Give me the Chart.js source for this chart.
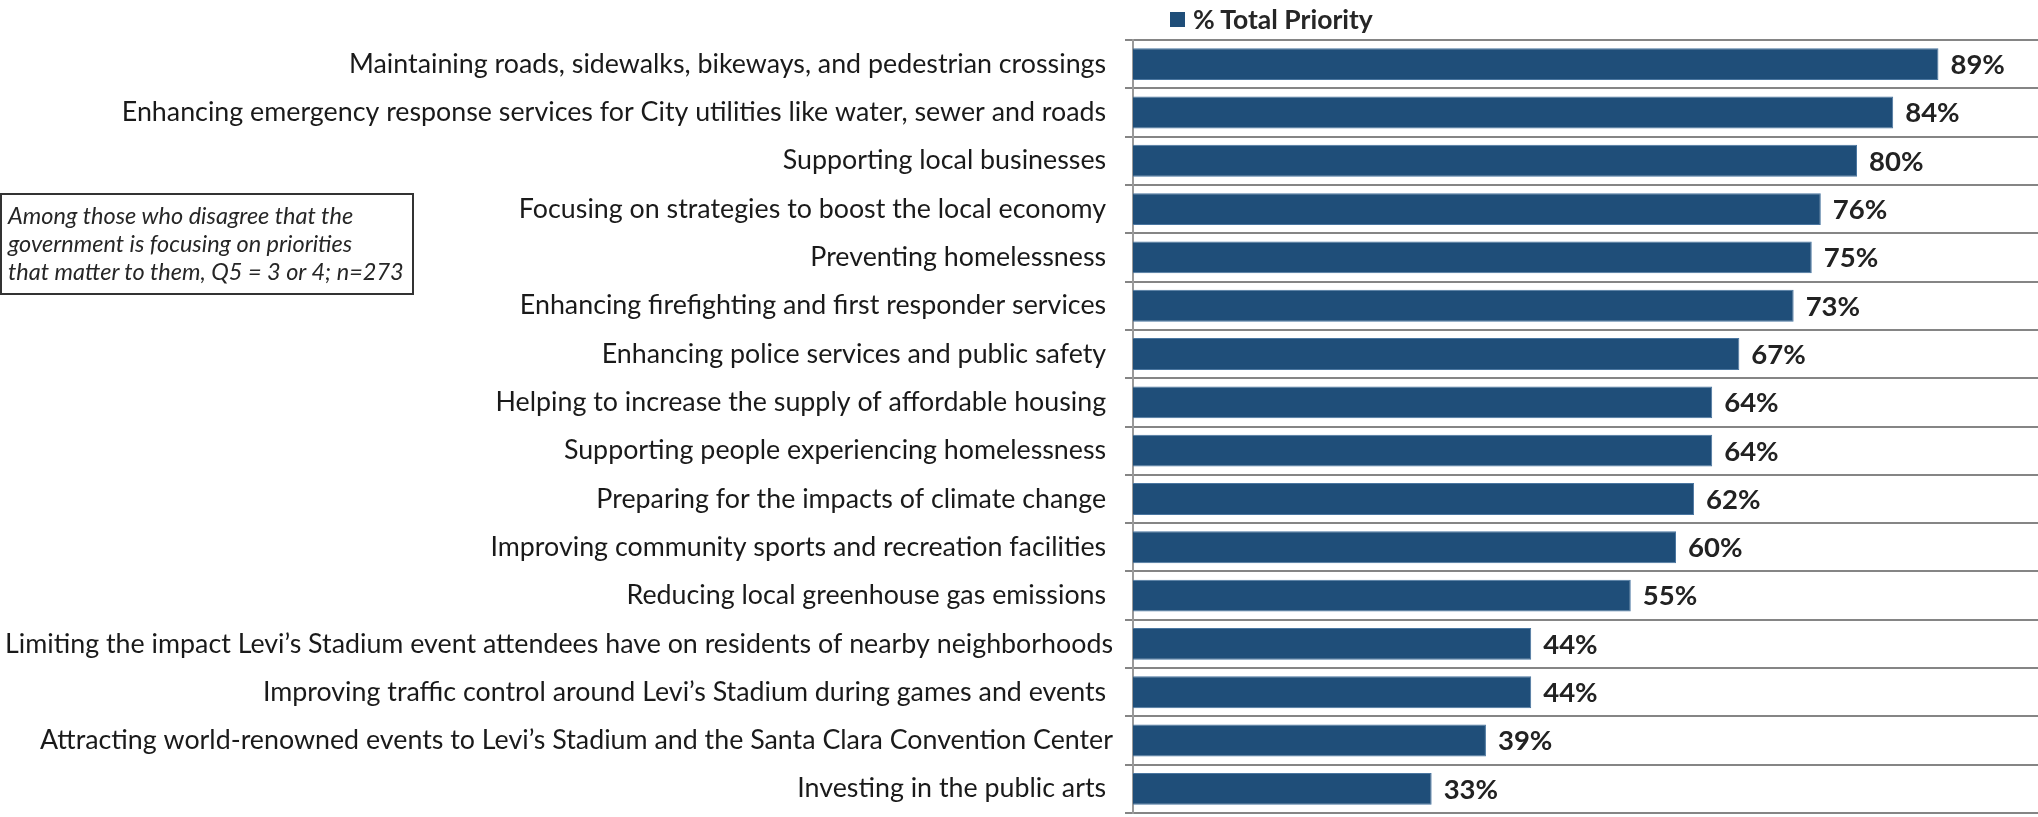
<!DOCTYPE html>
<html lang="en">
<head>
  <meta charset="UTF-8">
  <title>% Total Priority</title>
  <script src="https://cdn.jsdelivr.net/npm/chart.js"></script>
  <style>
    body { margin: 0; background: #fff; }
    .wrap { position: relative; width: 2038px; height: 817px; }
    .legend {
      position: absolute; left: 1170px; top: 3px;
      font: bold 26.5px Lato, sans-serif; color: #262626;
      display: flex; align-items: center;
    }
    .legend span {
      display: inline-block; width: 15px; height: 15px;
      background: #1f4e79; margin-right: 8px;
    }
    .note {
      position: absolute; left: 0; top: 193px; width: 414px; height: 102px;
      box-sizing: border-box;
      border: 2px solid #333; padding: 6px 0 0 6px;
      font: italic 23.5px Lato, sans-serif; line-height: 28px; color: #262626;
      white-space: nowrap;
    }
  </style>
</head>
<body>
<div class="wrap">
  <canvas id="chart"></canvas>
  <div class="legend"><span></span>% Total Priority</div>
  <div class="note">Among those who disagree that the<br>government is focusing on priorities<br>that matter to them, Q5 = 3 or 4; n=273</div>
</div>

<script>
// libellés des catégories (l'espace final vient de l'original)
const categories = [
  'Maintaining roads, sidewalks, bikeways, and pedestrian crossings ',
  'Enhancing emergency response services for City utilities like water, sewer and roads ',
  'Supporting local businesses ',
  'Focusing on strategies to boost the local economy ',
  'Preventing homelessness ',
  'Enhancing firefighting and first responder services ',
  'Enhancing police services and public safety ',
  'Helping to increase the supply of affordable housing ',
  'Supporting people experiencing homelessness ',
  'Preparing for the impacts of climate change ',
  'Improving community sports and recreation facilities ',
  'Reducing local greenhouse gas emissions ',
  'Limiting the impact Levi\u2019s Stadium event attendees have on residents of nearby neighborhoods',
  'Improving traffic control around Levi\u2019s Stadium during games and events ',
  'Attracting world-renowned events to Levi\u2019s Stadium and the Santa Clara Convention Center',
  'Investing in the public arts '
];
const totalPriority = [89, 84, 80, 76, 75, 73, 67, 64, 64, 62, 60, 55, 44, 44, 39, 33];
const seriesName = '% Total Priority';

// écrit les pourcentages au bout des barres
const valueLabels = {
  id: 'valueLabels',
  afterDatasetsDraw(chart) {
    const ctx = chart.ctx;
    ctx.save();
    ctx.font = 'bold 27.5px Lato, sans-serif';
    ctx.fillStyle = '#222';
    ctx.textBaseline = 'middle';
    chart.getDatasetMeta(0).data.forEach((bar, i) => {
      ctx.fillText(totalPriority[i] + '%', bar.x + 12, bar.y + 1);
    });
    ctx.restore();
  }
};

new Chart(document.getElementById('chart'), {
  type: 'bar',
  data: {
    labels: categories,
    datasets: [{
      label: seriesName,
      data: totalPriority,
      backgroundColor: '#1f4e79',
      borderColor: '#4a76a0',
      borderWidth: 1,
      categoryPercentage: 1,
      barPercentage: 0.66
    }]
  },
  options: {
    indexAxis: 'y',
    responsive: true,
    maintainAspectRatio: false,
    animation: false,
    layout: { padding: { top: 40, bottom: 4, left: 0, right: 0 } },
    plugins: {
      legend: { display: false },
      tooltip: { enabled: false }
    },
    scales: {
      x: { display: false, min: 0, max: 100 },
      y: {
        afterFit: scale => {
          scale.width = 1133;
          scale.paddingTop = 0;
          scale.paddingBottom = 0;
        },
        grid: { offset: true, color: '#858585', lineWidth: 2, tickLength: 8 },
        border: { display: true, color: '#9a9a9a', width: 2 },
        ticks: {
          padding: 12,
          color: '#1a1a1a',
          font: { family: 'Lato', size: 26.8 }
        }
      }
    }
  },
  plugins: [valueLabels]
});
</script>
</body>
</html>
